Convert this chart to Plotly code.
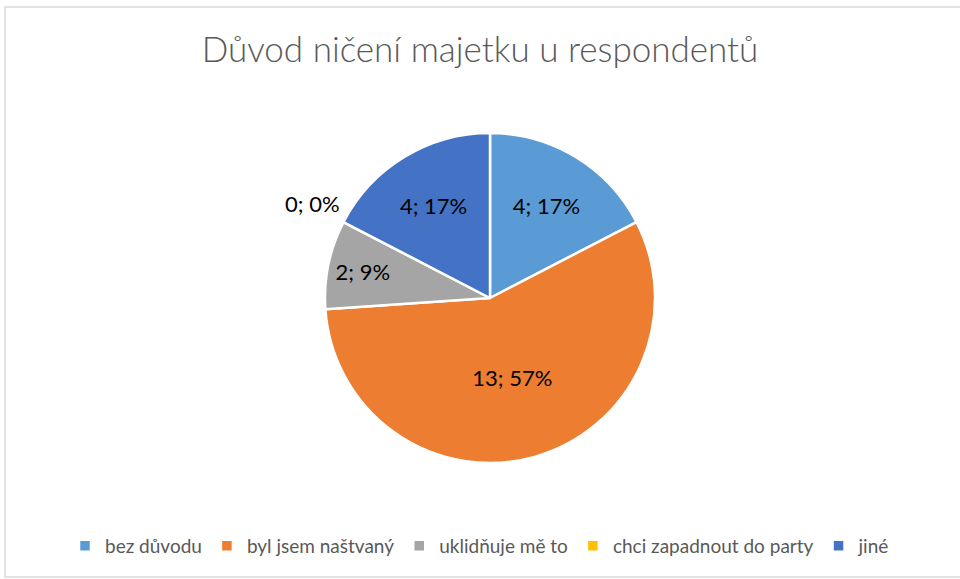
import math
import plotly.graph_objects as go

categories = ["bez důvodu", "byl jsem naštvaný", "uklidňuje mě to", "chci zapadnout do party", "jiné"]
values = [4, 13, 2, 0, 4]
colors = ["#5B9BD5", "#ED7D31", "#A5A5A5", "#FFC000", "#4472C4"]
title_text = "Důvod ničení majetku u respondentů"

W, H = 960, 579
cx, cy, r = 490, 298, 165  # pie centre / radius in pixels
dom_x = [(cx - r) / W, (cx + r) / W]
dom_y = [(H - cy - r) / H, (H - cy + r) / H]

total = sum(values)
texts = [f"{v}; {round(100 * v / total)}%" if v > 0 else "" for v in values]

fig = go.Figure(go.Pie(
    labels=categories,
    values=values,
    marker=dict(colors=colors, line=dict(color="white", width=2.5)),
    sort=False,
    direction="clockwise",
    rotation=0,
    text=texts,
    textinfo="text",
    textposition="inside",
    insidetextorientation="horizontal",
    textfont=dict(family="Lato", size=22, color="black"),
    domain=dict(x=dom_x, y=dom_y),
    showlegend=True,
    hoverinfo="label+value+percent",
))

# outside label for zero-value slice(s), positioned from cumulative data
cum = 0
annotations = []
for cat, v in zip(categories, values):
    if v == 0:
        theta = 2 * math.pi * cum / total
        rr = r * 1.25
        px = cx + rr * math.sin(theta) + 6
        py = cy - rr * math.cos(theta)
        annotations.append(dict(
            x=px / W, y=(H - py) / H, xref="paper", yref="paper",
            text=f"{v}; 0%", showarrow=False, xanchor="center", yanchor="middle",
            font=dict(family="Lato", size=22, color="black"),
        ))
    cum += v

fig.update_layout(
    width=W, height=H,
    margin=dict(l=0, r=0, t=0, b=0),
    paper_bgcolor="white",
    plot_bgcolor="white",
    title=dict(text=title_text, x=0.5, xanchor="center", y=1 - 50 / H, yanchor="middle",
               font=dict(family="Lato", size=35, color="#595959", weight=300)),
    legend=dict(orientation="h", x=0.5, xanchor="center", y=1 - 546 / H, yanchor="middle",
                font=dict(family="Lato", size=19, color="#595959"),
                itemwidth=30, traceorder="normal"),
    annotations=annotations,
    shapes=[dict(type="rect", xref="paper", yref="paper",
                 x0=5 / W, x1=1.01, y0=(H - 577) / H, y1=(H - 7) / H,
                 line=dict(color="#D9D9D9", width=1.5), fillcolor="rgba(0,0,0,0)")],
)

fig.write_html("out.html", config={"displayModeBar": False},
               post_script="document.body.style.margin='0';document.body.style.overflow='hidden';")
